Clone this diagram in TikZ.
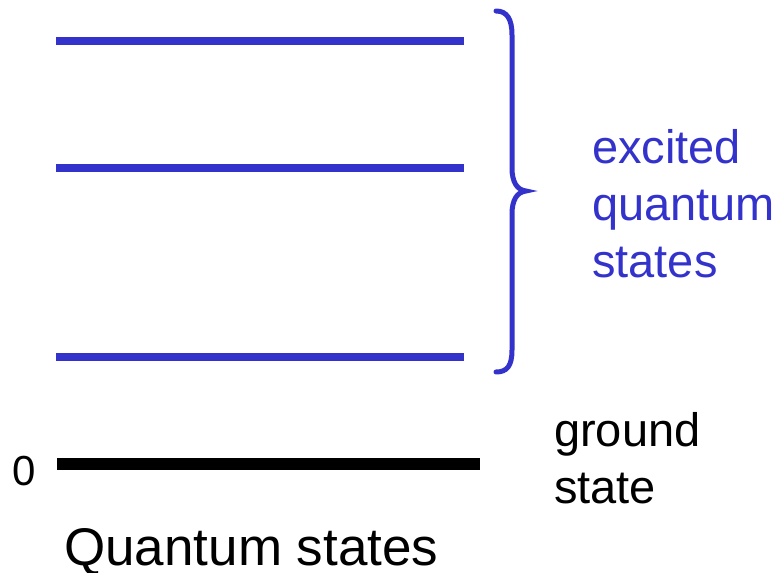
\documentclass[tikz,border=0pt]{standalone}
\usepackage{fontspec}
\setmainfont{Liberation Sans}
\definecolor{stateblue}{RGB}{51,51,204}
\begin{document}
\begin{tikzpicture}[x=1pt,y=-1pt,
  excited/.style={draw=stateblue,line width=8pt},
  ground/.style={draw=black,line width=12pt},
  lbl/.style={inner sep=0pt,anchor=base west,font=\fontsize{47}{57}\selectfont}]
\useasboundingbox (0,0) rectangle (780,573);
\coordinate (e1a) at (56,41);  \coordinate (e1b) at (464,41);
\coordinate (e2a) at (56,168); \coordinate (e2b) at (464,168);
\coordinate (e3a) at (56,357); \coordinate (e3b) at (464,357);
\coordinate (ga) at (57,464);  \coordinate (gb) at (480,464);
\draw[excited] (e1a) -- (e1b);
\draw[excited] (e2a) -- (e2b);
\draw[excited] (e3a) -- (e3b);
\draw[ground] (ga) -- (gb);
\draw[stateblue,line width=5pt,line cap=round]
  (496,11) .. controls (507,11) and (512,19) .. (512,35) -- (512,168)
  .. controls (512,182) and (517,190) .. (526,191)
  .. controls (517,192) and (512,200) .. (512,214) -- (512,350)
  .. controls (512,366) and (507,372) .. (496,372);
\node[lbl,text=stateblue] (ex1) at (592,163) {excited};
\node[lbl,text=stateblue] (ex2) at (592,220) {quantum};
\node[lbl,text=stateblue] (ex3) at (592,277) {states};
\node[lbl] (gs1) at (554,446) {ground};
\node[lbl] (gs2) at (554,503) {state};
\node[lbl,font=\fontsize{42}{50}\selectfont] (zero) at (12,485) {0};
\node[lbl,text depth=0pt,font=\fontsize{53}{63}\selectfont] (title) at (64,565) {Quantum states};
\end{tikzpicture}
\end{document}
